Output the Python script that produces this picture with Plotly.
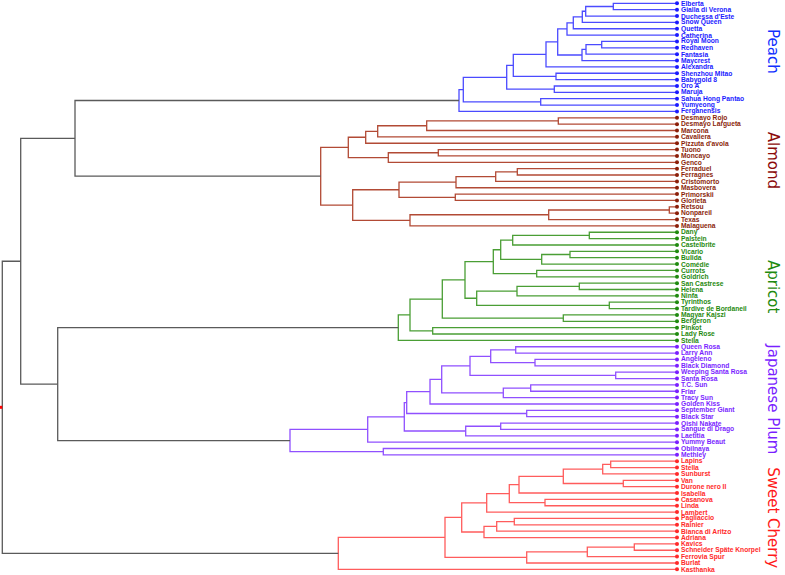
import plotly.graph_objects as go

# ---------------- data ----------------
peach = ["Elberta", "Gialla di Verona", "Duchessa d'Este", "Snow Queen", "Quetta", "Catherina",
         "Royal Moon", "Redhaven", "Fantasia", "Maycrest", "Alexandra", "Shenzhou Mitao",
         "Babygold 8", "Oro A", "Maruja", "Sahua Hong Pantao", "Yumyeong", "Ferganensis"]
almond = ["Desmayo Rojo", "Desmayo Largueta", "Marcona", "Cavaliera", "Pizzuta d'avola", "Tuono",
          "Moncayo", "Genco", "Ferraduel", "Ferragnes", "Cristomorto", "Masbovera", "Primorskii",
          "Glorieta", "Retsou", "Nonpareil", "Texas", "Malaguena"]
apricot = ["Dany", "Palstein", "Castelbrite", "Vicario", "Bulida", "Comédie", "Currots", "Goldrich",
           "San Castrese", "Helena", "Ninfa", "Tyrinthos", "Tardive de Bordaneil", "Magyar Kajszi",
           "Bergeron", "Pinkot", "Lady Rose", "Stella"]
plum = ["Queen Rosa", "Larry Ann", "Angeleno", "Black Diamond", "Weeping Santa Rosa", "Santa Rosa",
        "T.C. Sun", "Friar", "Tracy Sun", "Golden Kiss", "September Giant", "Black Star",
        "Oishi Nakate", "Sangue di Drago", "Laetitia", "Yummy Beaut", "Obilnaya", "Methley"]
cherry = ["Lapins", "Stella", "Sunburst", "Van", "Durone nero II", "Isabella", "Casanova", "Linda",
          "Lambert", "Pagliaccio", "Rainier", "Bianca di Aritzo", "Adriana", "Kavics",
          "Schneider Späte Knorpel", "Ferrovia Spur", "Burlat", "Kasthanka"]

group_names = ["Peach", "Almond", "Apricot", "Japanese Plum", "Sweet Cherry"]
group_leaves = [peach, almond, apricot, plum, cherry]

# merges: (first leaf, last leaf of left block, last leaf of right block, height)
peach_merges = [
    (0, 0, 1, 63.7), (0, 1, 2, 91.3), (0, 2, 3, 94.7), (0, 3, 4, 103.7), (0, 4, 5, 110.0),
    (6, 6, 7, 75.3), (6, 7, 8, 91.0), (6, 8, 9, 95.0),
    (0, 5, 9, 119.3), (0, 9, 10, 131.0), (11, 11, 12, 121.0), (0, 10, 12, 163.7),
    (13, 13, 14, 122.7), (0, 12, 14, 170.3), (15, 15, 16, 136.3), (0, 14, 16, 213.7),
    (0, 16, 17, 218.0),
]
almond_merges = [
    (18, 18, 19, 118.7), (18, 19, 20, 250.3), (18, 20, 21, 299.3), (18, 21, 22, 311.3),
    (23, 23, 24, 238.7), (23, 24, 25, 288.7), (18, 22, 25, 328.7),
    (26, 26, 27, 159.7), (26, 27, 28, 181.3), (26, 28, 29, 221.0), (30, 30, 31, 221.7),
    (26, 29, 31, 278.0), (32, 32, 33, 7.7), (32, 33, 34, 128.3), (32, 34, 35, 267.0),
    (26, 31, 35, 324.3), (18, 25, 35, 356.3),
]
apricot_merges = [
    (36, 36, 37, 87.7), (36, 37, 38, 164.3), (39, 39, 40, 107.0), (39, 40, 41, 135.3),
    (36, 38, 41, 176.3), (42, 42, 43, 140.3), (36, 41, 43, 183.7),
    (44, 44, 45, 97.7), (44, 45, 46, 160.0), (47, 47, 48, 67.7), (44, 46, 48, 200.3),
    (36, 43, 48, 212.0), (49, 49, 50, 113.7), (36, 48, 50, 234.7),
    (51, 51, 52, 244.3), (36, 50, 52, 267.0), (36, 52, 53, 278.7),
]
plum_merges = [
    (54, 54, 55, 161.3), (56, 56, 57, 142.0), (54, 55, 57, 186.3), (58, 58, 59, 61.3),
    (54, 57, 59, 207.0), (60, 60, 61, 146.3), (60, 61, 62, 173.7), (54, 59, 62, 235.3),
    (54, 62, 63, 247.0), (64, 64, 65, 150.3), (54, 63, 65, 270.3),
    (66, 66, 67, 176.3), (66, 67, 68, 211.3), (54, 65, 68, 272.7), (54, 68, 69, 309.3),
    (70, 70, 71, 293.7), (54, 69, 71, 387.0),
]
cherry_merges = [
    (72, 72, 73, 66.3), (72, 73, 74, 74.3), (75, 75, 76, 53.7), (72, 74, 76, 113.7),
    (72, 76, 77, 158.0), (78, 78, 79, 132.0), (72, 77, 79, 167.7), (72, 79, 80, 190.3),
    (81, 81, 82, 162.7), (81, 82, 83, 180.3), (81, 83, 84, 193.0), (72, 80, 84, 215.3),
    (85, 85, 86, 42.7), (85, 86, 87, 89.7), (85, 87, 88, 150.3), (72, 84, 88, 232.0),
    (72, 88, 89, 338.7),
]
top_merges = [
    (0, 17, 35, 602.0), (36, 53, 71, 619.3), (0, 35, 71, 656.3), (0, 71, 89, 674.7),
]

label_colors = ["#1a1aff", "#8b1f0a", "#1f8a0f", "#7a1fff", "#ff2a2a"]
line_colors = ["#4b4bff", "#b24a35", "#4a9e35", "#9050ff", "#ff5c5c"]
title_colors = ["#1030ff", "#8b0a0a", "#1f8a0f", "#7a1fff", "#ff1a1a"]
title_rows = [7.5, 24.6, 44.6, 62.1, 80.8]   # vertical placement of group titles (leaf rows)
gray = "#5a5a5a"

# ---------------- build ----------------
labels = [name for g in group_leaves for name in g]
n = len(labels)
gsize = [len(g) for g in group_leaves]
leaf_group = [gi for gi, s in enumerate(gsize) for _ in range(s)]

merges = peach_merges + almond_merges + apricot_merges + plum_merges + cherry_merges + top_merges
node = {(i, i): (float(i), 0.0) for i in range(n)}

seg_x = {c: [] for c in line_colors + [gray]}
seg_y = {c: [] for c in line_colors + [gray]}
for lo, sp, hi, h in merges:
    ya, ha = node[(lo, sp)]
    yb, hb = node[(sp + 1, hi)]
    c = line_colors[leaf_group[lo]] if leaf_group[lo] == leaf_group[hi] else gray
    seg_x[c] += [ha, h, h, hb, None]
    seg_y[c] += [ya, ya, yb, yb, None]
    node[(lo, hi)] = ((ya + yb) / 2, h)

fig = go.Figure()
for c in seg_x:
    fig.add_trace(go.Scatter(x=seg_x[c], y=seg_y[c], mode="lines",
                             line=dict(color=c, width=1.3), hoverinfo="skip"))

for gi in range(len(group_names)):
    idx = [i for i in range(n) if leaf_group[i] == gi]
    fig.add_trace(go.Scatter(x=[0] * len(idx), y=idx, mode="markers",
                             marker=dict(color=label_colors[gi], size=4),
                             text=[labels[i] for i in idx], hoverinfo="text"))

root_y, root_h = node[(0, n - 1)]
fig.add_trace(go.Scatter(x=[root_h + 1.5], y=[root_y], mode="markers", cliponaxis=False,
                         marker=dict(color="red", size=3, symbol="square"), hoverinfo="skip"))

annotations = []
for i, name in enumerate(labels):
    annotations.append(dict(x=-3, y=i, text="<b>%s</b>" % name, showarrow=False,
                            xanchor="left", yanchor="middle", borderpad=0,
                            font=dict(family="Liberation Sans, Arial", size=6.7,
                                      color=label_colors[leaf_group[i]])))
for gi, name in enumerate(group_names):
    annotations.append(dict(x=-96, y=title_rows[gi], text=name, showarrow=False, textangle=90,
                            xanchor="center", yanchor="middle",
                            font=dict(family="DejaVu Sans", size=15, color=title_colors[gi])))

fig.update_layout(
    width=785, height=575, margin=dict(l=0, r=0, t=0, b=0),
    paper_bgcolor="white", plot_bgcolor="white", showlegend=False,
    xaxis=dict(range=[677, 677 - 785], visible=False, fixedrange=True),
    yaxis=dict(range=[89.89, -0.52], visible=False, fixedrange=True),
    annotations=annotations,
)
fig.write_html("out.html", config={"displayModeBar": False},
               post_script="document.body.style.margin='0';document.body.style.overflow='hidden';")
